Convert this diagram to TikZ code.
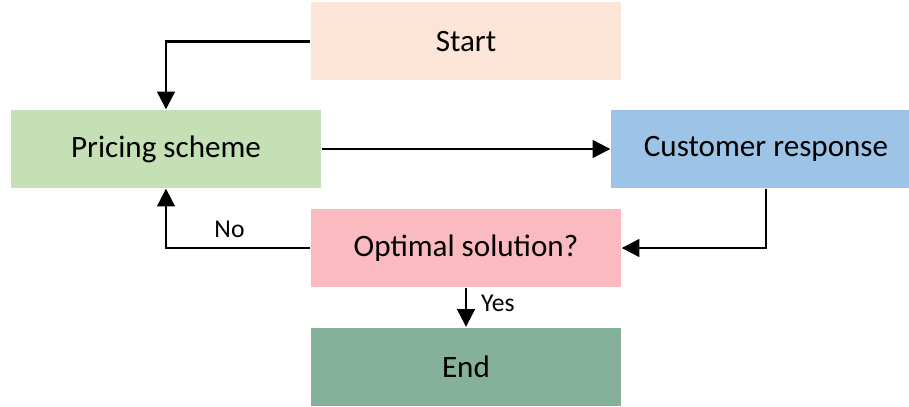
\documentclass[tikz,border=0pt]{standalone}
\usepackage{fontspec}
\setmainfont{Carlito}
\usetikzlibrary{arrows.meta}
\definecolor{startc}{HTML}{FCE4D6}
\definecolor{pricec}{HTML}{C5E0B4}
\definecolor{custc}{HTML}{9DC3E6}
\definecolor{optc}{HTML}{FBB9C0}
\definecolor{endc}{HTML}{85B09A}
\begin{document}
\begin{tikzpicture}[
    box/.style={minimum width=3.1cm, minimum height=0.78cm, inner sep=0pt,
        font=\fontsize{8.85}{10}\selectfont},
    flow/.style={-{Triangle[length=5pt,width=5pt]}, line width=0.65pt},
    lbl/.style={font=\fontsize{7.3}{9}\selectfont, inner sep=2pt}]
    \useasboundingbox (0,0) rectangle (9.09,-4.07);
    \clip (0,0) rectangle (9.09,-4.07);

    \node[box, fill=startc] (start) at (4.66,-0.415) {Start};
    \node[box, fill=pricec] (price) at (1.66,-1.49) {Pricing scheme};
    \node[box, fill=custc]  (cust)  at (7.66,-1.49) {Customer response};
    \node[box, fill=optc]   (opt)   at (4.66,-2.48) {Optimal solution?};
    \node[box, fill=endc]   (end)   at (4.66,-3.665) {End};

    \draw[flow] (start.west) -| (price.north);
    \draw[flow] (price.east) -- (cust.west);
    \draw[flow] (cust.south) |- (opt.east);
    \draw[flow] (opt.west) -| node[lbl, pos=0.28, above=0.5pt] {No} (price.south);
    \draw[flow] (opt.south) -- node[lbl, pos=0.4, right=2pt] {Yes} (end.north);

\end{tikzpicture}
\end{document}
